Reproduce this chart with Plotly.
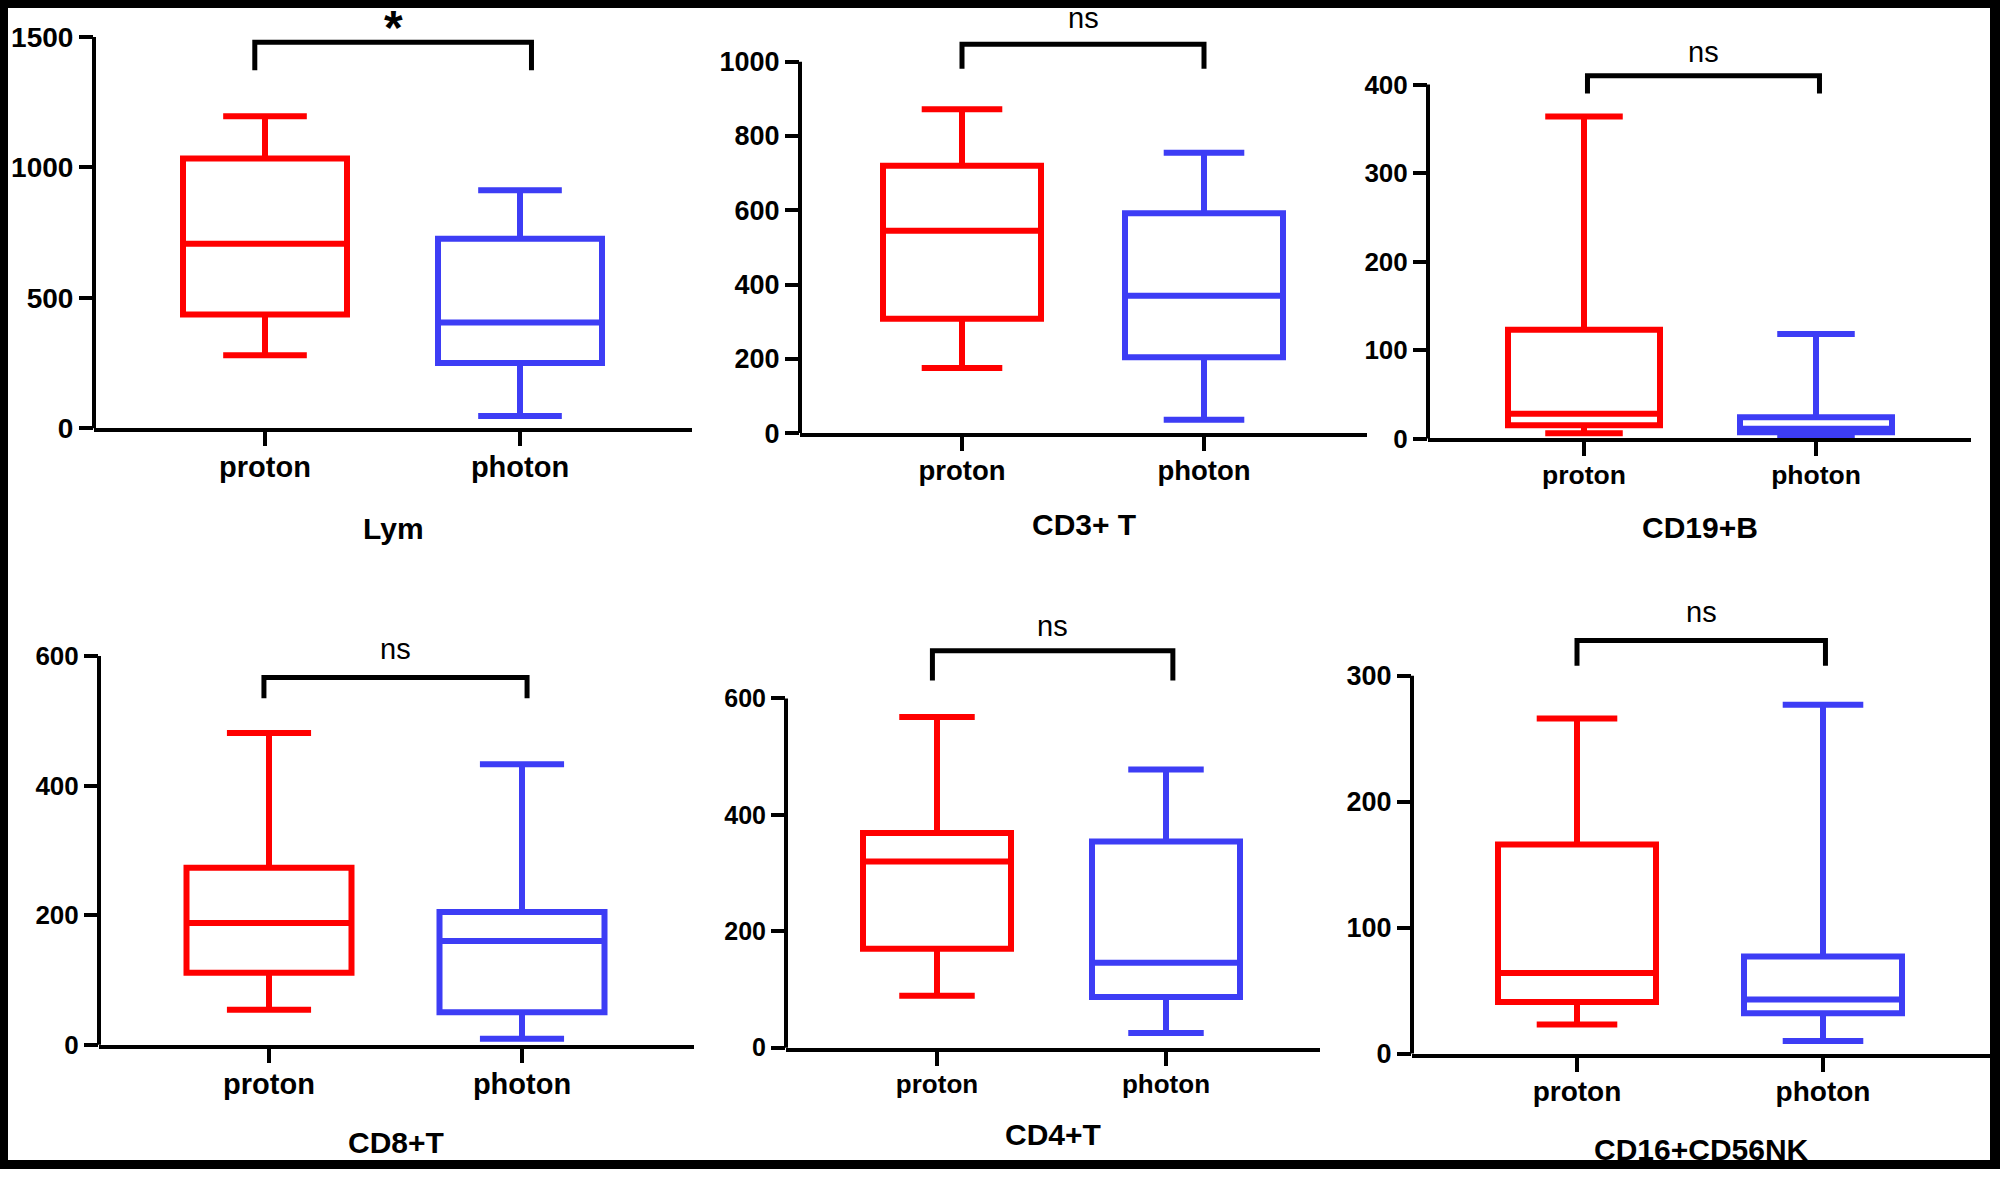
import plotly.graph_objects as go

W, H = 2000, 1185

# ---------------- data ----------------
groups = ["proton", "photon"]
panel_titles = ["Lym", "CD3+ T", "CD19+B", "CD8+T", "CD4+T", "CD16+CD56NK"]
sig_labels = ["*", "ns", "ns", "ns", "ns", "ns"]
y_ticks = [
    [0, 500, 1000, 1500],
    [0, 200, 400, 600, 800, 1000],
    [0, 100, 200, 300, 400],
    [0, 200, 400, 600],
    [0, 200, 400, 600],
    [0, 100, 200, 300],
]

# box statistics, one pair [proton, photon] per panel
lower_fence = [[280, 47], [175, 36], [6, 2], [54, 9], [89, 25], [23, 10]]
q1 = [[436, 250], [308, 204], [15, 7], [111, 50], [170, 87], [41, 32]]
median = [[707, 405], [545, 370], [28, 11], [188, 160], [320, 146], [64, 43]]
q3 = [[1034, 726], [720, 592], [123, 24], [273, 205], [369, 354], [166, 77]]
upper_fence = [[1196, 912], [872, 755], [364, 118], [481, 433], [568, 478], [266, 277]]

# significance brackets (data units)
bracket_top = [1480, 1047, 410, 567, 682, 328]
bracket_arm = [1372, 981, 390, 535, 631, 308]
bracket_left = [-0.04, 0.0, 0.015, -0.02, -0.02, 0.0]
bracket_right = [1.045, 1.0, 1.015, 1.02, 1.03, 1.01]
sig_y = [1566, 1118, 437, 611, 725, 351]

# ---------------- layout geometry (pixels of the 2000x1185 canvas) ----------------
ax_left = [94, 800, 1428, 99, 786, 1412]
ax_right = [692, 1367, 1971, 694, 1320, 1990]
cat_px = [[265, 520], [962, 1204], [1584, 1816], [269, 522], [937, 1166], [1577, 1823]]
zero_px = [434, 439, 444.5, 1059, 1062, 1068]
top_tick_px = [37.5, 62.5, 85.7, 665, 708, 685]
box_px = [164, 158, 152, 165, 148, 158]
dom_top_px = [0, 0, 0, 600, 600, 600]
title_px = [(393, 536), (1084, 532), (1700, 535), (396, 1158), (1053, 1150), (1701, 1165)]
tick_font = [28, 27, 26, 26, 25, 27]
cat_font = [29, 27.5, 26.5, 29, 26, 28]

RED = "#FF0000"
BLUE = "#3D3DF5"
colors = [RED, BLUE]
FONT = "Arial, Liberation Sans, sans-serif"

fig = go.Figure()
layout = dict(
    autosize=True, margin=dict(l=0, r=0, t=0, b=0),
    paper_bgcolor="white", plot_bgcolor="rgba(0,0,0,0)",
    showlegend=False, shapes=[], annotations=[],
)

for i in range(6):
    xa = "x" if i == 0 else f"x{i+1}"
    ya = "y" if i == 0 else f"y{i+1}"
    xkey = "xaxis" if i == 0 else f"xaxis{i+1}"
    ykey = "yaxis" if i == 0 else f"yaxis{i+1}"

    ppx = cat_px[i][1] - cat_px[i][0]
    xmin = (ax_left[i] - cat_px[i][0]) / ppx
    xmax = (ax_right[i] - cat_px[i][0]) / ppx
    ymax_tick = max(y_ticks[i])
    ppu = (zero_px[i] - top_tick_px[i]) / ymax_tick
    ymax = (zero_px[i] - dom_top_px[i]) / ppu
    bw = box_px[i] / ppx

    for g in range(2):
        fig.add_trace(go.Box(
            x=[g], q1=[q1[i][g]], median=[median[i][g]], q3=[q3[i][g]],
            lowerfence=[lower_fence[i][g]], upperfence=[upper_fence[i][g]],
            width=bw, whiskerwidth=0.51, boxpoints=False,
            line=dict(color=colors[g], width=6), fillcolor="rgba(0,0,0,0)",
            xaxis=xa, yaxis=ya, hoverinfo="skip",
        ))

    # significance bracket
    bl, br = bracket_left[i], bracket_right[i]
    fig.add_trace(go.Scatter(
        x=[bl, bl, br, br],
        y=[bracket_arm[i], bracket_top[i], bracket_top[i], bracket_arm[i]],
        mode="lines", line=dict(color="black", width=5),
        xaxis=xa, yaxis=ya, hoverinfo="skip", cliponaxis=False,
    ))

    layout[xkey] = dict(
        domain=[ax_left[i] / W, ax_right[i] / W], range=[xmin, xmax],
        anchor=ya, showgrid=False, zeroline=False,
        showline=True, linecolor="black", linewidth=4,
        tickmode="array", tickvals=[0, 1], ticktext=groups,
        ticks="outside", ticklen=14, tickwidth=4, tickcolor="black",
        ticklabelstandoff=-4,
        tickfont=dict(family=FONT, size=cat_font[i], color="black", weight="bold"),
    )
    layout[ykey] = dict(
        domain=[1 - zero_px[i] / H, 1 - dom_top_px[i] / H], range=[0, ymax],
        anchor=xa, showgrid=False, zeroline=False, showline=False,
        tickmode="array", tickvals=y_ticks[i], ticktext=[str(t) for t in y_ticks[i]],
        ticks="outside", ticklen=14, tickwidth=4, tickcolor="black",
        tickfont=dict(family=FONT, size=tick_font[i], color="black", weight="bold"),
    )
    # y-axis spine up to the top tick
    layout["shapes"].append(dict(
        type="line", xref="paper", yref=ya,
        x0=ax_left[i] / W, x1=ax_left[i] / W, y0=-ymax_tick * 0.006, y1=ymax_tick,
        line=dict(color="black", width=4), layer="above",
    ))
    # significance label
    is_star = sig_labels[i] == "*"
    layout["annotations"].append(dict(
        xref=xa, yref=ya, x=(bl + br) / 2, y=sig_y[i] - (ymax_tick * 0.02 if is_star else 0),
        text=sig_labels[i], showarrow=False, xanchor="center", yanchor="middle",
        font=dict(family=FONT, size=48 if is_star else 29, color="black",
                  weight="bold" if is_star else "normal"),
    ))
    # panel title
    layout["annotations"].append(dict(
        xref="paper", yref="paper", x=title_px[i][0] / W, y=1 - title_px[i][1] / H,
        text=panel_titles[i], showarrow=False, xanchor="center", yanchor="middle",
        font=dict(family=FONT, size=30, color="black", weight="bold"),
    ))

# black frame around the figure
for (x0, x1, y0, y1) in [(0, W, 0, 8), (0, W, 1176, H), (0, 8, 0, H), (1990, W, 0, H)]:
    layout["shapes"].append(dict(
        type="rect", xref="paper", yref="paper",
        x0=x0 / W, x1=x1 / W, y0=1 - y1 / H, y1=1 - y0 / H,
        fillcolor="black", line=dict(width=0), layer="above",
    ))

fig.update_layout(**layout)
# the graph div is pinned to the page's top-left corner and fills the whole viewport
fig.write_html(
    "out.html",
    config={"displayModeBar": False, "responsive": True},
    default_width="100vw",
    default_height="100vh; position:absolute; top:0px; left:0px",
)
